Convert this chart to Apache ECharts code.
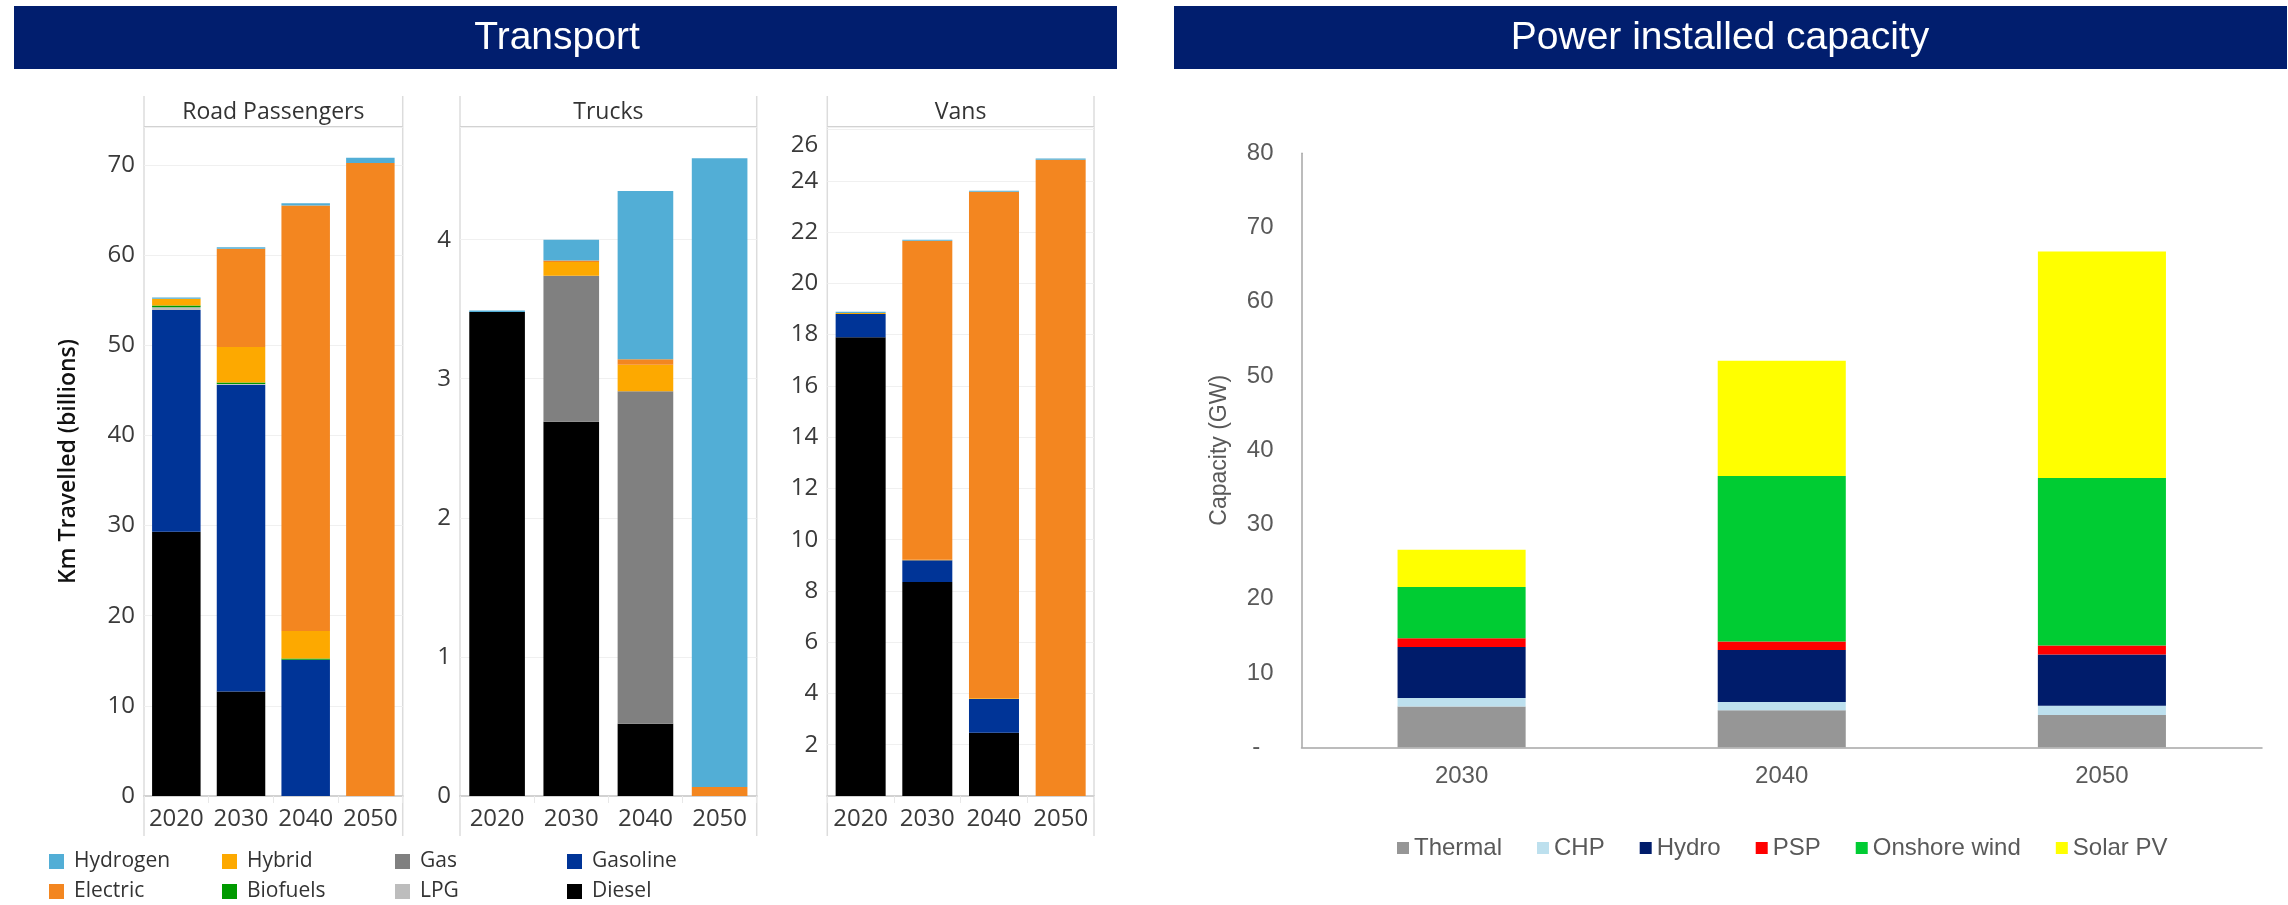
<!DOCTYPE html>
<html>
<head>
<meta charset="utf-8">
<script src="https://cdn.jsdelivr.net/npm/echarts@6/dist/echarts.min.js"></script>
<style>
html,body{margin:0;padding:0;background:#fff;}
#main{width:2288px;height:905px;}
</style>
</head>
<body>
<div id="main"></div>
<script>
// ---------- DATA ----------
const transportYears = ['2020', '2030', '2040', '2050'];
const fuelNames = ['Diesel', 'Gasoline', 'LPG', 'Gas', 'Biofuels', 'Hybrid', 'Electric', 'Hydrogen'];
const fuelColors = ['#000000', '#003497', '#bdbdbd', '#808080', '#009a00', '#fda900', '#f38620', '#52aed6'];

// Road Passengers (km travelled, billions)
const rpDiesel   = [29.3, 11.6, 0, 0];
const rpGasoline = [24.6, 34.0, 15.1, 0];
const rpLPG      = [0.3, 0.1, 0, 0];
const rpGas      = [0, 0, 0, 0];
const rpBiofuels = [0.2, 0.15, 0.15, 0];
const rpHybrid   = [0.75, 3.95, 3.05, 0];
const rpElectric = [0, 10.9, 47.2, 70.2];
const rpHydrogen = [0.15, 0.15, 0.25, 0.6];

// Trucks
const trDiesel   = [3.48, 2.69, 0.52, 0];
const trGasoline = [0, 0, 0, 0];
const trLPG      = [0, 0, 0, 0];
const trGas      = [0, 1.05, 2.39, 0];
const trBiofuels = [0, 0, 0, 0];
const trHybrid   = [0, 0.10, 0.19, 0];
const trElectric = [0, 0.01, 0.04, 0.065];
const trHydrogen = [0.01, 0.15, 1.21, 4.52];

// Vans
const vnDiesel   = [17.9, 8.35, 2.47, 0];
const vnGasoline = [0.9, 0.85, 1.31, 0];
const vnLPG      = [0, 0, 0, 0];
const vnGas      = [0, 0, 0, 0];
const vnBiofuels = [0, 0, 0, 0];
const vnHybrid   = [0.04, 0.02, 0.03, 0];
const vnElectric = [0, 12.44, 19.76, 24.82];
const vnHydrogen = [0.05, 0.04, 0.04, 0.05];

// Power installed capacity (GW)
const powerYears = ['2030', '2040', '2050'];
const powerNames = ['Thermal', 'CHP', 'Hydro', 'PSP', 'Onshore wind', 'Solar PV'];
const powerColors = ['#969696', '#bde0ee', '#001c6b', '#ff0000', '#00cc33', '#ffff00'];
const pwThermal = [5.5, 5.0, 4.35];
const pwCHP     = [1.15, 1.1, 1.25];
const pwHydro   = [6.85, 7.0, 6.9];
const pwPSP     = [1.2, 1.15, 1.2];
const pwOnshore = [6.9, 22.3, 22.57];
const pwSolar   = [5.0, 15.5, 30.5];

const panelTitles = ['Road Passengers', 'Trucks', 'Vans'];
const panelTicks = [10, 1, 2];
const panelMax = [74.2, 4.81, 26.1];

// ---------- BUILD ----------
const panels = [
  [rpDiesel, rpGasoline, rpLPG, rpGas, rpBiofuels, rpHybrid, rpElectric, rpHydrogen],
  [trDiesel, trGasoline, trLPG, trGas, trBiofuels, trHybrid, trElectric, trHydrogen],
  [vnDiesel, vnGasoline, vnLPG, vnGas, vnBiofuels, vnHybrid, vnElectric, vnHydrogen]
];
const powerSeries = [pwThermal, pwCHP, pwHydro, pwPSP, pwOnshore, pwSolar];

const LF = 'Open Sans';
const RF = 'Liberation Sans';
const panelBox = [[144, 402.7], [460, 756.7], [827.3, 1094]];
const plotTop = 127, plotBottom = 796;

const grids = [], xAxes = [], yAxes = [], series = [], graphics = [];

panelBox.forEach((b, i) => {
  grids.push({left: b[0], top: plotTop, width: b[1] - b[0], height: plotBottom - plotTop, outerBoundsMode: 'none', containLabel: false});
  xAxes.push({
    type: 'category', gridIndex: i, data: transportYears,
    axisLine: {show: true, lineStyle: {color: '#d2d2d2', width: 2}},
    axisTick: {show: true, length: 7, lineStyle: {color: '#e8e8e8'}},
    axisLabel: {fontFamily: LF, fontSize: 24, color: '#3a3a3a', margin: 11, interval: 0, hideOverlap: false}
  });
  const step = panelTicks[i];
  yAxes.push({
    type: 'value', gridIndex: i, min: 0, max: panelMax[i], interval: step,
    axisLine: {show: false}, axisTick: {show: false},
    splitLine: {show: true, lineStyle: {color: '#f0f0f0', width: 1}},
    axisLabel: {
      fontFamily: LF, fontSize: 24, color: '#3a3a3a', margin: 9,
      showMinLabel: true, showMaxLabel: true,
      formatter: function (v) {
        const r = Math.round(v / step) * step;
        if (Math.abs(r - v) > 1e-6) return '';
        if (i === 2 && v === 0) return '';
        if (i === 2 && v === 26) return '{t|26}';
        return String(r);
      },
      rich: {t: {fontFamily: LF, fontSize: 24, color: '#3a3a3a', padding: [32, 0, 0, 0]}}
    },
    name: i === 0 ? 'Km Travelled (billions)' : '',
    nameLocation: 'middle', nameGap: 64, nameRotate: 90,
    nameTextStyle: {fontFamily: LF, fontSize: 23, fontWeight: 600, color: '#111'}
  });
  fuelNames.forEach((f, k) => {
    series.push({
      name: f, type: 'bar', stack: 'p' + i, xAxisIndex: i, yAxisIndex: i,
      data: panels[i][k], barWidth: '75%',
      itemStyle: {color: fuelColors[k]}, emphasis: {disabled: true}
    });
  });
  // panel frame decorations
  graphics.push({type: 'line', shape: {x1: b[0], y1: 96, x2: b[0], y2: 836}, style: {stroke: '#dcdcdc', lineWidth: 1.5}});
  graphics.push({type: 'line', shape: {x1: b[1], y1: 96, x2: b[1], y2: 836}, style: {stroke: '#dcdcdc', lineWidth: 1.5}});
  graphics.push({type: 'line', shape: {x1: b[0], y1: 127, x2: b[1], y2: 127}, style: {stroke: '#d2d2d2', lineWidth: 2}});
  graphics.push({type: 'text', x: (b[0] + b[1]) / 2, y: 112,
    style: {text: panelTitles[i], font: '23px "Open Sans"', fill: '#333333', align: 'center', verticalAlign: 'middle', textAlign: 'center', textVerticalAlign: 'middle'}});
});

// Power chart
grids.push({left: 1301.5, top: 153.3, width: 960.5, height: 594, outerBoundsMode: 'none', containLabel: false});
xAxes.push({
  type: 'category', gridIndex: 3, data: powerYears,
  axisLine: {show: true, lineStyle: {color: '#a6a6a6', width: 1.5}},
  axisTick: {show: false},
  axisLabel: {fontFamily: RF, fontSize: 24, color: '#595959', margin: 17, interval: 0}
});
yAxes.push({
  type: 'value', gridIndex: 3, min: 0, max: 80, interval: 10,
  axisLine: {show: true, lineStyle: {color: '#a6a6a6', width: 1.5}},
  axisTick: {show: false}, splitLine: {show: false},
  axisLabel: {fontFamily: RF, fontSize: 24, color: '#595959', margin: 28,
    formatter: v => (v === 0 ? '-  ' : String(v))},
  name: 'Capacity (GW)', nameLocation: 'middle', nameGap: 70, nameRotate: 90,
  nameTextStyle: {fontFamily: RF, fontSize: 23, color: '#595959'}
});
powerNames.forEach((p, k) => {
  series.push({
    name: p, type: 'bar', stack: 'power', xAxisIndex: 3, yAxisIndex: 3,
    data: powerSeries[k], barWidth: '40%',
    itemStyle: {color: powerColors[k]}, emphasis: {disabled: true}
  });
});

// title bars
graphics.push({type: 'rect', shape: {x: 14, y: 6, width: 1103, height: 63}, style: {fill: '#011e6e'}});
graphics.push({type: 'rect', shape: {x: 1174, y: 6, width: 1113, height: 63}, style: {fill: '#011e6e'}});
graphics.push({type: 'text', x: 557, y: 38,
  style: {text: 'Transport', font: '39px "Liberation Sans"', fill: '#ffffff', align: 'center', verticalAlign: 'middle', textAlign: 'center', textVerticalAlign: 'middle'}});
graphics.push({type: 'text', x: 1720, y: 38,
  style: {text: 'Power installed capacity', font: '39px "Liberation Sans"', fill: '#ffffff', align: 'center', verticalAlign: 'middle', textAlign: 'center', textVerticalAlign: 'middle'}});

// legends
const leftLegendCols = [['Hydrogen', 'Electric'], ['Hybrid', 'Biofuels'], ['Gas', 'LPG'], ['Gasoline', 'Diesel']];
const leftLegendX = [49, 222, 395, 567];
const legends = leftLegendCols.map((col, c) => ({
  orient: 'vertical', left: leftLegendX[c], top: 851, padding: 0,
  itemWidth: 15, itemHeight: 15, itemGap: 9, icon: 'rect',
  data: col, selectedMode: false,
  textStyle: {fontFamily: LF, fontSize: 21, color: '#333333', lineHeight: 21, padding: [0, 0, 0, 5]}
}));
legends.push({
  orient: 'horizontal', left: 1397, top: 836, padding: 0,
  itemWidth: 12, itemHeight: 12, itemGap: 35, icon: 'rect',
  data: powerNames, selectedMode: false,
  textStyle: {fontFamily: RF, fontSize: 24, color: '#595959', lineHeight: 24}
});

const chart = echarts.init(document.getElementById('main'), null, {renderer: 'canvas', width: 2288, height: 905});
chart.setOption({
  animation: false,
  backgroundColor: '#ffffff',
  grid: grids, xAxis: xAxes, yAxis: yAxes,
  legend: legends,
  graphic: graphics,
  series: series
});
</script>
</body>
</html>
